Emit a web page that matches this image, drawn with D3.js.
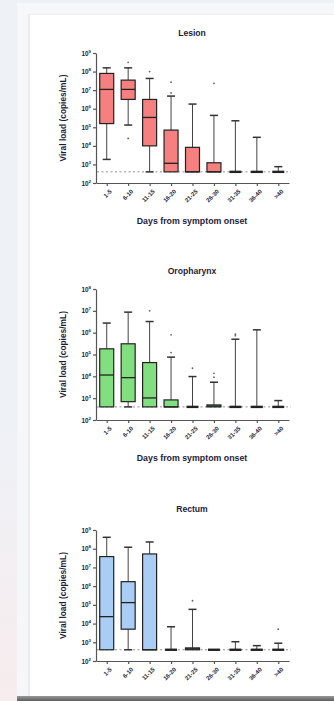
<!DOCTYPE html>
<html><head><meta charset="utf-8">
<script src="https://cdn.jsdelivr.net/npm/d3@7"></script>
<style>
body{margin:0;background:#eef1f6;overflow:hidden}
svg{display:block}
text{font-family:"Liberation Sans",Arial,sans-serif}
</style>
</head><body>
<svg id="c" width="334" height="701"></svg>
<script>
// ---------------- DATA (log10 copies/mL) ----------------
const categories = ["1-5","6-10","11-15","16-20","21-25","26-30","31-35","36-40",">40"];
const lodLog = 2.6;

const lesionHigh   = [8.2, 8.2, 7.63, 6.68, 6.25, 5.64, 5.35, 4.46, 2.88];
const lesionQ3     = [7.9, 7.54, 6.5, 4.85, 3.92, 3.09, 2.6, 2.6, 2.6];
const lesionMedian = [7.04, 7.04, 5.53, 3.06, 2.6, 2.6, 2.6, 2.6, 2.6];
const lesionQ1     = [5.2, 6.5, 4.0, 2.6, 2.6, 2.6, 2.6, 2.6, 2.6];
const lesionLow    = [3.27, 5.12, 2.6, 2.6, 2.6, 2.6, 2.6, 2.6, 2.6];
const lesionOut    = [[], [8.5, 4.4], [8.0], [7.43, 6.85], [], [7.36], [], [], []];

const oroHigh   = [6.44, 6.94, 6.51, 4.88, 3.99, 3.73, 5.7, 6.13, 2.89];
const oroQ3     = [5.26, 5.49, 4.63, 2.92, 2.6, 2.69, 2.6, 2.6, 2.6];
const oroMedian = [4.06, 3.94, 3.01, 2.6, 2.6, 2.64, 2.6, 2.6, 2.6];
const oroQ1     = [2.6, 2.84, 2.6, 2.6, 2.6, 2.6, 2.6, 2.6, 2.6];
const oroLow    = [2.6, 2.6, 2.6, 2.6, 2.6, 2.6, 2.6, 2.6, 2.6];
const oroOut    = [[], [], [7.0], [5.9, 5.09], [4.37], [4.14, 3.96], [5.93, 5.86], [], []];

const recHigh   = [8.61, 8.08, 8.36, 3.83, 4.76, 2.6, 3.03, 2.82, 2.95];
const recQ3     = [7.58, 6.24, 7.72, 2.6, 2.7, 2.6, 2.6, 2.6, 2.6];
const recMedian = [4.37, 5.12, 2.6, 2.6, 2.65, 2.6, 2.6, 2.6, 2.6];
const recQ1     = [2.6, 3.7, 2.6, 2.6, 2.6, 2.6, 2.6, 2.6, 2.6];
const recLow    = [2.6, 2.6, 2.6, 2.6, 2.6, 2.6, 2.6, 2.6, 2.6];
const recOut    = [[], [], [], [], [5.22], [], [], [], [3.7]];

const yTickExpLesion = [2,3,4,5,6,7,8,9];
const yTickExpOro    = [2,3,4,5,6,7,8];
const yTickExpRec    = [2,3,4,5,6,7,8,9];

const titles = ["Lesion", "Oropharynx", "Rectum"];
const yTitle = "Viral load (copies/mL)";
const xTitle = "Days from symptom onset";

// ---------------- LAYOUT ----------------
const svg = d3.select("#c");
const defs = svg.append("defs");
const pink = defs.append("linearGradient").attr("id","pk").attr("x1",0).attr("y1",0).attr("x2",0).attr("y2",1);
pink.append("stop").attr("offset","0").attr("stop-color","#eef1f6");
pink.append("stop").attr("offset","1").attr("stop-color","#f7ecee");
const shad = defs.append("linearGradient").attr("id","sh").attr("x1",0).attr("y1",0).attr("x2",0).attr("y2",1);
shad.append("stop").attr("offset","0").attr("stop-color","#9a9a9a");
shad.append("stop").attr("offset","1").attr("stop-color","#5d5d5d");

svg.append("rect").attr("x",0).attr("y",0).attr("width",334).attr("height",701).attr("fill","#eef1f6");
svg.append("rect").attr("x",0).attr("y",420).attr("width",18).attr("height",281).attr("fill","url(#pk)");
svg.append("rect").attr("x",17).attr("y",3).attr("width",317).attr("height",698).attr("fill","#f6f7f9");
svg.append("rect").attr("x",28).attr("y",14).attr("width",306).attr("height",684).attr("fill","#ececee");
svg.append("rect").attr("x",30).attr("y",15).attr("width",304).attr("height",682).attr("fill","#ffffff");
svg.append("rect").attr("x",17).attr("y",696).attr("width",317).attr("height",5).attr("fill","url(#sh)");

const x = d3.scalePoint().domain(categories).range([96, 289]).padding(0.5);

const panels = [
  {title: titles[0], fill: "#f67f7f", high: lesionHigh, q3: lesionQ3, med: lesionMedian, q1: lesionQ1, low: lesionLow, out: lesionOut,
   ticks: yTickExpLesion, yr: [183, 53], titleY: 36, xTitleY: 224},
  {title: titles[1], fill: "#82df80", high: oroHigh, q3: oroQ3, med: oroMedian, q1: oroQ1, low: oroLow, out: oroOut,
   ticks: yTickExpOro, yr: [420, 289], titleY: 274, xTitleY: 461},
  {title: titles[2], fill: "#a9cdf4", high: recHigh, q3: recQ3, med: recMedian, q1: recQ1, low: recLow, out: recOut,
   ticks: yTickExpRec, yr: [661, 530], titleY: 512, xTitleY: null}
];

const ink = "#1c1c3a";

panels.forEach(p => {
  const g = svg.append("g");
  const e0 = d3.min(p.ticks), e1 = d3.max(p.ticks);
  const y = d3.scaleLinear().domain([e0, e1]).range(p.yr);

  g.append("text").attr("x", 192).attr("y", p.titleY).attr("text-anchor","middle")
    .attr("font-size", 8.6).attr("font-weight","bold").attr("fill", ink).text(p.title);

  const yc = (p.yr[0] + p.yr[1]) / 2;
  g.append("text").attr("transform", `translate(66,${yc}) rotate(-90)`).attr("text-anchor","middle")
    .attr("font-size", 8.4).attr("font-weight","bold").attr("fill", ink).text(yTitle);

  if (p.xTitleY !== null) {
    g.append("text").attr("x", 192).attr("y", p.xTitleY).attr("text-anchor","middle")
      .attr("font-size", 8.8).attr("font-weight","bold").attr("fill", ink).text(xTitle);
  }

  g.append("line").attr("x1", 97).attr("x2", 291).attr("y1", y(lodLog)).attr("y2", y(lodLog))
    .attr("stroke", "#8f8f8f").attr("stroke-width", 1).attr("stroke-dasharray", "2,2.5");

  const ya = g.append("g").attr("transform", "translate(96,0)")
    .call(d3.axisLeft(y).tickValues(p.ticks).tickSize(3).tickSizeOuter(0).tickFormat(""));
  ya.selectAll("path,line").attr("stroke", "#555").attr("stroke-width", 1.2);
  ya.selectAll(".tick").each(function(d) {
    const t = d3.select(this).append("text").attr("x", -5).attr("dy", "0.32em")
      .attr("text-anchor", "end").attr("font-size", 6.4).attr("font-weight", "bold").attr("fill", ink);
    t.append("tspan").text("10");
    t.append("tspan").attr("dy", -3).attr("font-size", 4.4).text(d);
  });

  const xa = g.append("g").attr("transform", `translate(0,${p.yr[0]})`)
    .call(d3.axisBottom(x).tickSize(3).tickSizeOuter(0));
  xa.selectAll("path,line").attr("stroke", "#555").attr("stroke-width", 1.2);
  xa.selectAll("text").attr("font-size", 6).attr("font-weight","bold").attr("fill", ink)
    .attr("text-anchor","end").attr("dy", 0).attr("y", 0)
    .attr("transform", "translate(5,9) rotate(-45)");

  const bw = 14, cw = 8;
  categories.forEach((c, i) => {
    const cx = x(c);
    const hi = p.high[i], lo = p.low[i], q3 = p.q3[i], q1 = p.q1[i], md = p.med[i];
    if (hi > q3) {
      g.append("line").attr("x1", cx).attr("x2", cx).attr("y1", y(q3)).attr("y2", y(hi))
        .attr("stroke", "#444").attr("stroke-width", 1);
      g.append("line").attr("x1", cx - cw/2).attr("x2", cx + cw/2).attr("y1", y(hi)).attr("y2", y(hi))
        .attr("stroke", "#333").attr("stroke-width", 1.5);
    }
    if (lo < q1) {
      g.append("line").attr("x1", cx).attr("x2", cx).attr("y1", y(q1)).attr("y2", y(lo))
        .attr("stroke", "#444").attr("stroke-width", 1);
      g.append("line").attr("x1", cx - cw/2).attr("x2", cx + cw/2).attr("y1", y(lo)).attr("y2", y(lo))
        .attr("stroke", "#333").attr("stroke-width", 1.5);
    }
    const h = y(q1) - y(q3);
    if (h > 0.5) {
      g.append("rect").attr("x", cx - bw/2).attr("y", y(q3)).attr("width", bw).attr("height", h)
        .attr("fill", p.fill).attr("stroke", "#222").attr("stroke-width", 1.2);
      g.append("line").attr("x1", cx - bw/2).attr("x2", cx + bw/2).attr("y1", y(md)).attr("y2", y(md))
        .attr("stroke", "#222").attr("stroke-width", 1.3);
    } else {
      g.append("line").attr("x1", cx - bw/2 + 1).attr("x2", cx + bw/2 - 1).attr("y1", y(q3)).attr("y2", y(q3))
        .attr("stroke", "#222").attr("stroke-width", 2.4);
    }
    p.out[i].forEach(v => {
      g.append("circle").attr("cx", cx).attr("cy", y(v)).attr("r", 0.9).attr("fill", "#666");
    });
  });
});
</script>
</body></html>
